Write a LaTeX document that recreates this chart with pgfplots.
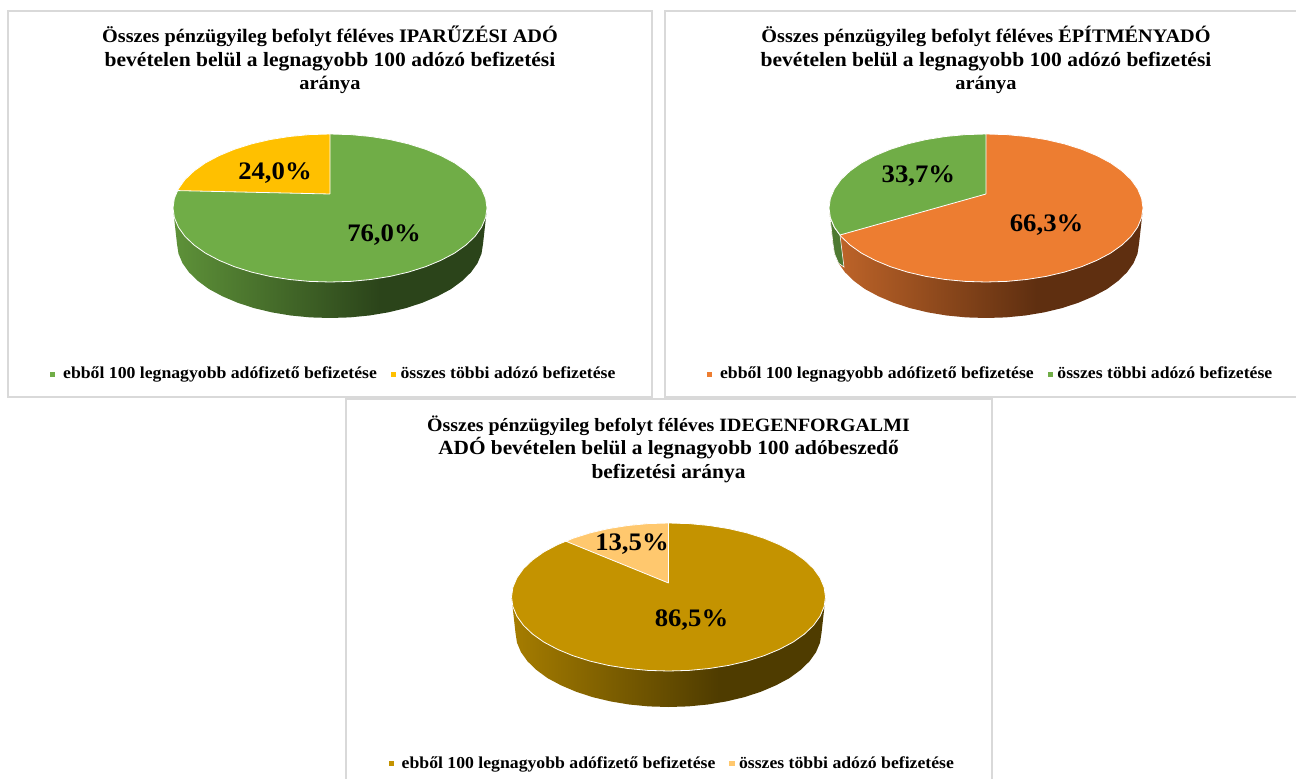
\documentclass[border=0pt]{standalone}
\usepackage{pgfplots}
\pgfplotsset{compat=1.18}
\usepackage{pgfplotstable}
\usepackage{fontspec}
\setmainfont{Liberation Serif}[BoldFeatures={FakeStretch=1.06}]
\definecolor{cgreen}{HTML}{70AD47}
\definecolor{cyellow}{HTML}{FFC000}
\definecolor{corange}{HTML}{ED7D31}
\definecolor{cgold}{HTML}{C49300}
\definecolor{clight}{HTML}{FFC86E}
\definecolor{wgl}{HTML}{5E9239}
\definecolor{wgd}{HTML}{2B441A}
\definecolor{wol}{HTML}{C2662A}
\definecolor{wod}{HTML}{5F2F10}
\definecolor{wyl}{HTML}{A67D00}
\definecolor{wyd}{HTML}{4F3C00}
\definecolor{bord}{HTML}{D9D9D9}
\newcommand{\fs}[1]{\fontsize{#1}{11.7}\selectfont}
\pgfdeclarehorizontalshading{wallgreen}{100bp}{color(0bp)=(wgl);color(25bp)=(wgl);color(58bp)=(wgd);color(100bp)=(wgd)}
\pgfdeclarehorizontalshading{wallorange}{100bp}{color(0bp)=(wol);color(25bp)=(wol);color(58bp)=(wod);color(100bp)=(wod)}
\pgfdeclarehorizontalshading{wallgold}{100bp}{color(0bp)=(wyl);color(25bp)=(wyl);color(58bp)=(wyd);color(100bp)=(wyd)}
% top ellipse outline
\pgfplotstableread{
x y
157 0
155.6 9.7
151.6 19.2
145.1 28.3
136 37
124.6 45.1
111 52.3
95.6 58.7
78.5 64.1
60.1 68.4
40.6 71.5
20.5 73.4
0 74
-20.5 73.4
-40.6 71.5
-60.1 68.4
-78.5 64.1
-95.6 58.7
-111 52.3
-124.6 45.1
-136 37
-145.1 28.3
-151.6 19.2
-155.6 9.7
-157 0
-155.6 -9.7
-151.6 -19.2
-145.1 -28.3
-136 -37
-124.6 -45.1
-111 -52.3
-95.6 -58.7
-78.5 -64.1
-60.1 -68.4
-40.6 -71.5
-20.5 -73.4
0 -74
20.5 -73.4
40.6 -71.5
60.1 -68.4
78.5 -64.1
95.6 -58.7
111 -52.3
124.6 -45.1
136 -37
145.1 -28.3
151.6 -19.2
155.6 -9.7
157 0
}\topE
% side wall outline
\pgfplotstableread{
x y
-157 0
-153 -36
-151.5 -45.7
-147.5 -55.2
-141 -64.3
-132 -73
-121 -81.1
-107.5 -88.3
-92.5 -94.7
-76 -100.1
-58 -104.4
-39.3 -107.5
-19.8 -109.4
0 -110
19.8 -109.4
39.3 -107.5
58 -104.4
76 -100.1
92.5 -94.7
107.5 -88.3
121 -81.1
132 -73
141 -64.3
147.5 -55.2
151.5 -45.7
153 -36
157 0
}\wallT
% slice 24.0
\pgfplotstableread{
x y
0 14
0 74
-20.5 73.4
-40.6 71.5
-60.1 68.4
-78.5 64.1
-95.6 58.7
-111 52.3
-124.6 45.1
-136 37
-145.1 28.3
-151.6 19.2
-152.3 17.4
0 14
}\sliceA
% slice 33.7
\pgfplotstableread{
x y
0 14
0 74
-20.5 73.4
-40.6 71.5
-60.1 68.4
-78.5 64.1
-95.6 58.7
-111 52.3
-124.6 45.1
-136 37
-145.1 28.3
-151.6 19.2
-155.6 9.7
-157 0
-155.6 -9.7
-151.6 -19.2
-146 -27
0 14
}\sliceB
% wall of slice 33.7
\pgfplotstableread{
x y
-157 0
-155.6 -9.7
-151.6 -19.2
-146 -27
-142 -59
-147.5 -55.2
-151.5 -45.7
-153 -36
-157 0
}\wallB
% slice 13.5
\pgfplotstableread{
x y
0 14
0 74
-20.5 73.4
-40.6 71.5
-60.1 68.4
-78.5 64.1
-95.6 58.7
-102.5 55.7
0 14
}\sliceC
\pgfplotsset{
  panel/.style={
    x=0.5pt,y=0.5pt,clip=false,
    xtick=\empty,ytick=\empty,
    axis line style={draw=bord,line width=1pt},
    legend columns=2,
    legend style={draw=none,fill=none,inner sep=0pt,outer sep=0pt,anchor=west,
      font=\bfseries\fontsize{8.35}{10}\selectfont,
      /tikz/every even column/.append style={column sep=5pt},
      /tikz/column 3/.style={column sep=-1.75pt}},
    legend cell align=left,
    legend image code/.code={\fill[##1,draw=none] (0pt,-1.3pt) rectangle (2.6pt,1.3pt);\path[draw=none,fill=none] (0pt,0pt) -- (4.6pt,0pt);},
  },
}
\tikzset{val/.style={font=\bfseries\fontsize{12.6}{14}\selectfont},
  ttl/.style={align=center,font=\bfseries\fontsize{9.55}{11.7}\selectfont}}
\begin{document}
\begin{tikzpicture}
\useasboundingbox (0,0) rectangle (648pt,389pt);
\clip (0,0) rectangle (648pt,389pt);
% Panel 1
\begin{axis}[panel,at={(4pt,190.5pt)},anchor=south west,
  xmin=-322,xmax=322,ymin=-189,ymax=197,
  legend style={at={(0.0652,0.0586)}}]
\addlegendimage{fill=cgreen}\addlegendentry{ebből 100 legnagyobb adófizető befizetése}
\addlegendimage{fill=cyellow}\addlegendentry{összes többi adózó befizetése}
\addplot[shade,shading=wallgreen,draw=none] table {\wallT};
\addplot[fill=cgreen,draw=white,line width=0.4pt] table {\topE};
\addplot[fill=cyellow,draw=white,line width=0.4pt] table {\sliceA};
\node[val] at (axis cs:54,-27) {76,0\%};
\node[val] at (axis cs:-55,35) {24,0\%};
\node[ttl] at (axis cs:0,148) {\fs{9.55}Összes pénzügyileg befolyt féléves IPARŰZÉSI ADÓ\\\fs{10.15}bevételen belül a legnagyobb 100 adózó befizetési\\\fs{9.6}aránya};
\end{axis}
% Panel 2
\begin{axis}[panel,at={(332.5pt,190.5pt)},anchor=south west,
  xmin=-321,xmax=314,ymin=-189,ymax=197,
  legend style={at={(0.066,0.0586)}}]
\addlegendimage{fill=corange}\addlegendentry{ebből 100 legnagyobb adófizető befizetése}
\addlegendimage{fill=cgreen}\addlegendentry{összes többi adózó befizetése}
\addplot[shade,shading=wallorange,draw=none] table {\wallT};
\addplot[fill=cgreen!70!black,draw=white,line width=0.3pt] table {\wallB};
\addplot[fill=corange,draw=white,line width=0.4pt] table {\topE};
\addplot[fill=cgreen,draw=white,line width=0.4pt] table {\sliceB};
\node[val] at (axis cs:60.6,-17) {66,3\%};
\node[val] at (axis cs:-67.6,32) {33,7\%};
\node[ttl] at (axis cs:0,148) {\fs{9.55}Összes pénzügyileg befolyt féléves ÉPÍTMÉNYADÓ\\\fs{10.15}bevételen belül a legnagyobb 100 adózó befizetési\\\fs{9.6}aránya};
\end{axis}
% Panel 3
\begin{axis}[panel,at={(173pt,-2pt)},anchor=south west,
  xmin=-322.5,xmax=323.5,ymin=-185,ymax=198,
  legend style={at={(0.0658,0.0476)}}]
\addlegendimage{fill=cgold}\addlegendentry{ebből 100 legnagyobb adófizető befizetése}
\addlegendimage{fill=clight}\addlegendentry{összes többi adózó befizetése}
\addplot[shade,shading=wallgold,draw=none] table {\wallT};
\addplot[fill=cgold,draw=white,line width=0.4pt] table {\topE};
\addplot[fill=clight,draw=white,line width=0.4pt] table {\sliceC};
\node[val] at (axis cs:23,-23) {86,5\%};
\node[val] at (axis cs:-36.5,53) {13,5\%};
\node[ttl] at (axis cs:0,148) {\fs{9.4}Összes pénzügyileg befolyt féléves IDEGENFORGALMI\\\fs{10.05}ADÓ bevételen belül a legnagyobb 100 adóbeszedő\\\fs{10.1}befizetési aránya};
\end{axis}
\end{tikzpicture}
\end{document}
